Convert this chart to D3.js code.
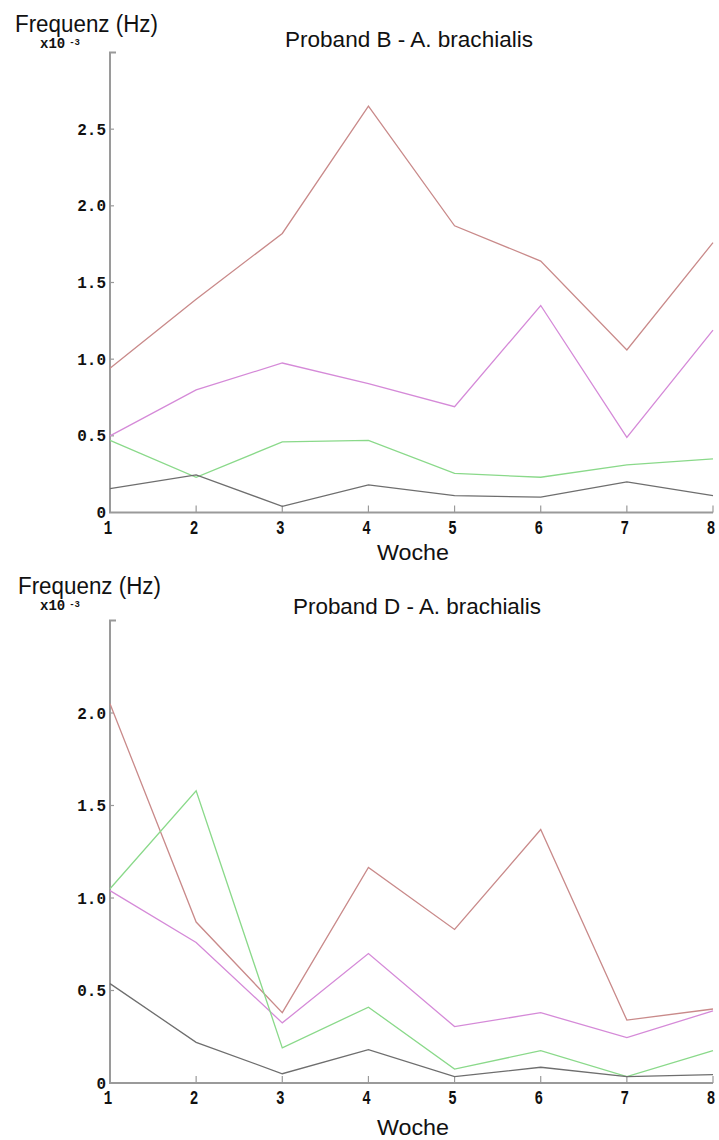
<!DOCTYPE html>
<html>
<head>
<meta charset="utf-8">
<script src="https://cdn.jsdelivr.net/npm/d3@7"></script>
<style>
  html, body { margin: 0; padding: 0; background: #fff; }
  svg { display: block; }
  .lbl { font-family: "Liberation Sans", Arial, sans-serif; fill: #111; }
  .tick-num { font-family: "Liberation Mono", "Courier New", monospace; font-weight: bold; fill: #111; }
</style>
</head>
<body>
<svg id="chart" width="719" height="1140"></svg>
<script>
// Weeks on the x axis
const weeks = [1, 2, 3, 4, 5, 6, 7, 8];

// Proband B – frequency values (x10^-3 Hz)
const bRed     = [0.94, 1.39, 1.82, 2.65, 1.87, 1.64, 1.06, 1.76];
const bMagenta = [0.50, 0.80, 0.975, 0.84, 0.69, 1.35, 0.49, 1.19];
const bGreen   = [0.47, 0.23, 0.46, 0.47, 0.255, 0.23, 0.31, 0.35];
const bGray    = [0.155, 0.245, 0.04, 0.18, 0.11, 0.10, 0.20, 0.11];

// Proband D – frequency values (x10^-3 Hz)
const dRed     = [2.05, 0.87, 0.38, 1.165, 0.83, 1.37, 0.34, 0.40];
const dMagenta = [1.04, 0.76, 0.325, 0.70, 0.305, 0.38, 0.245, 0.39];
const dGreen   = [1.05, 1.58, 0.19, 0.41, 0.075, 0.175, 0.035, 0.175];
const dGray    = [0.537, 0.22, 0.05, 0.18, 0.035, 0.085, 0.035, 0.045];

// Y tick labels
const yTicksB = [0, 0.5, 1.0, 1.5, 2.0, 2.5];
const yTicksD = [0, 0.5, 1.0, 1.5, 2.0];

const colors = { red: "#c98a8a", magenta: "#d58ad8", green: "#8ad98a", gray: "#6e6e6e" };

const svg = d3.select("#chart");

function panel(cfg) {
  const x = d3.scaleLinear().domain([1, 8]).range([110, 713]);
  const y = d3.scaleLinear().domain([0, cfg.yMax]).range([cfg.y0, cfg.yTop]);
  const g = svg.append("g");

  // axes frame (left + bottom), gray
  g.append("path")
    .attr("d", `M${x(1) + 6},${y(cfg.yMax)} H${x(1)} V${y(0)} H${x(8)}`)
    .attr("fill", "none").attr("stroke", "#9a9a9a").attr("stroke-width", 2);

  // y ticks (inside) + labels
  cfg.yTicks.forEach(t => {
    if (t > 0) {
      g.append("line").attr("x1", x(1)).attr("x2", x(1) + 4)
        .attr("y1", y(t)).attr("y2", y(t)).attr("stroke", "#9a9a9a").attr("stroke-width", 1.2);
    }
    g.append("text").attr("class", "tick-num")
      .attr("x", 106).attr("y", y(t)).attr("dy", "0.35em")
      .attr("text-anchor", "end").attr("font-size", 16)
      .text(t === 0 ? "0" : t.toFixed(1));
  });

  // x ticks (inside, upward) + labels
  weeks.forEach(w => {
    if (w > 1) {
      g.append("line").attr("x1", x(w)).attr("x2", x(w))
        .attr("y1", y(0)).attr("y2", y(0) - 7).attr("stroke", "#9a9a9a").attr("stroke-width", 1.2);
    }
    g.append("text").attr("class", "tick-num")
      .attr("transform", `translate(${x(w) - 2},${y(0) + 21}) scale(0.95,1.3)`)
      .attr("text-anchor", "middle").attr("font-size", 15)
      .text(w);
  });

  // data lines
  const line = d3.line().x((d, i) => x(weeks[i])).y(d => y(d));
  cfg.series.forEach(s => {
    g.append("path").datum(s.values)
      .attr("d", line).attr("fill", "none")
      .attr("stroke", s.color).attr("stroke-width", 1.3)
      .attr("stroke-linejoin", "miter");
  });

  // texts
  g.append("text").attr("class", "lbl").attr("x", cfg.ylabX).attr("y", cfg.ylabY)
    .attr("font-size", 23).attr("textLength", 143).attr("lengthAdjust", "spacingAndGlyphs")
    .text("Frequenz (Hz)");
  const ex = g.append("text").attr("class", "tick-num").attr("x", 40).attr("y", cfg.ylabY + 16)
    .attr("font-size", 14);
  ex.append("tspan").text("x10");
  ex.append("tspan").attr("dx", 4).attr("dy", -3).attr("font-size", 9).text("-3");

  g.append("text").attr("class", "lbl").attr("x", cfg.titleX).attr("y", cfg.titleY)
    .attr("font-size", 22).attr("textLength", 248).attr("lengthAdjust", "spacingAndGlyphs")
    .text(cfg.title);

  g.append("text").attr("class", "lbl").attr("x", 413).attr("y", cfg.wocheY)
    .attr("text-anchor", "middle").attr("font-size", 22)
    .attr("textLength", 72).attr("lengthAdjust", "spacingAndGlyphs")
    .text("Woche");
}

panel({
  yMax: 3, y0: 512.5, yTop: 52.5, yTicks: yTicksB,
  ylabX: 15, ylabY: 32, titleX: 285, titleY: 47, wocheY: 560,
  title: "Proband B - A. brachialis",
  series: [
    { values: bRed, color: colors.red },
    { values: bMagenta, color: colors.magenta },
    { values: bGreen, color: colors.green },
    { values: bGray, color: colors.gray }
  ]
});

panel({
  yMax: 2.5, y0: 1083, yTop: 620.5, yTicks: yTicksD,
  ylabX: 18, ylabY: 594, titleX: 293, titleY: 614, wocheY: 1135,
  title: "Proband D - A. brachialis",
  series: [
    { values: dRed, color: colors.red },
    { values: dMagenta, color: colors.magenta },
    { values: dGreen, color: colors.green },
    { values: dGray, color: colors.gray }
  ]
});
</script>
</body>
</html>
